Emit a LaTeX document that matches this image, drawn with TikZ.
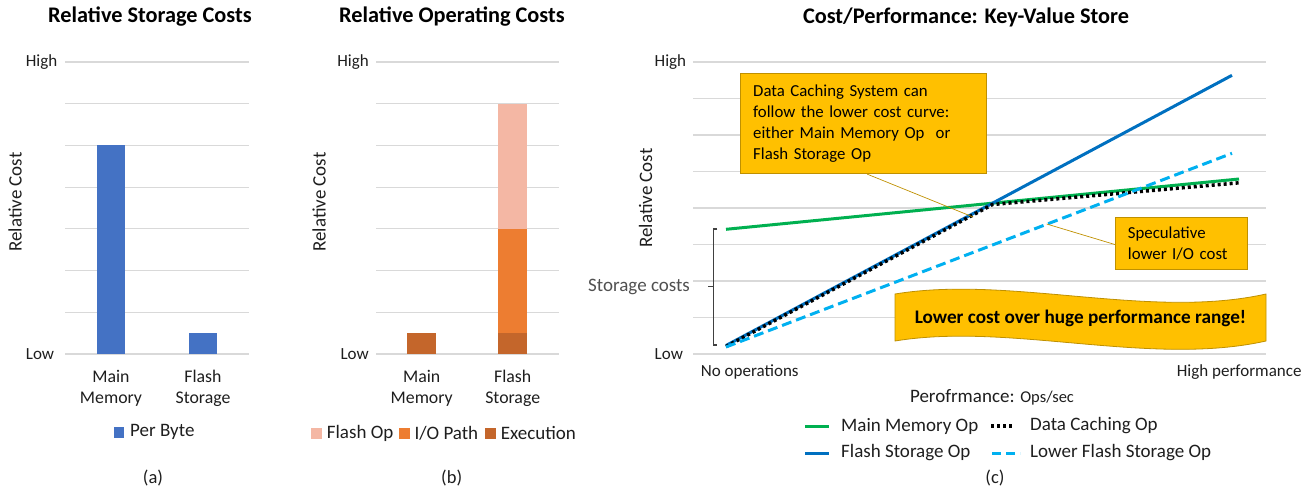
\documentclass[tikz,border=0pt]{standalone}
\usepackage{fontspec}
\setmainfont{Carlito}
\definecolor{gridgrey}{HTML}{D9D9D9}
\definecolor{txt}{HTML}{1E1E1E}
\definecolor{softtxt}{HTML}{505050}
\definecolor{barblue}{HTML}{4472C4}
\definecolor{flashop}{HTML}{F4B7A4}
\definecolor{iopath}{HTML}{ED7D31}
\definecolor{execcol}{HTML}{C4662B}
\definecolor{mmgreen}{HTML}{00B050}
\definecolor{fsblue}{HTML}{0070C0}
\definecolor{lfsblue}{HTML}{00B0F0}
\definecolor{callfill}{HTML}{FFC000}
\definecolor{calledge}{HTML}{BF9000}
\definecolor{bracketgrey}{HTML}{404040}
\begin{document}
\begin{tikzpicture}[x=1pt,y=-1pt,
  gridline/.style={draw=gridgrey,line width=1.2pt},
  lbl/.style={font=\fontsize{17}{21}\selectfont,text=txt,inner sep=0pt},
  cat/.style={lbl,font=\fontsize{17.8}{21}\selectfont,align=center},
  axtitle/.style={lbl,font=\fontsize{19}{22}\selectfont},
  keytext/.style={lbl,font=\fontsize{19}{22}\selectfont,anchor=west},
  captext/.style={lbl,font=\fontsize{18.5}{22}\selectfont},
  charttitle/.style={font=\fontsize{22.3}{26}\selectfont\bfseries,text=black,inner sep=0pt},
  callout/.style={draw=calledge,line width=0.8pt,fill=callfill,
    font=\fontsize{16.8}{20.8}\selectfont,text=black,align=left,
    inner xsep=12.5pt,inner ysep=0pt,anchor=north west},
  leader/.style={draw=calledge,line width=0.7pt},
  series/.style={line width=3pt},
  dotseries/.style={line width=3.5pt,black,dash pattern=on 3pt off 3pt},
  dashseries/.style={line width=3pt,lfsblue,dash pattern=on 10pt off 5pt},
  bracket/.style={draw=bracketgrey,line width=1.1pt},
]
\useasboundingbox (0,0) rectangle (1311,490);

% ---------------- (a) Relative Storage Costs ----------------
\node[charttitle] (aTitle) at (150,17) {Relative Storage Costs};
\foreach \k in {0,...,7}
  \draw[gridline] (65,{62+41.714*\k}) -- (249,{62+41.714*\k});
\fill[barblue] (96.7,145.4) rectangle (125.3,354);
\fill[barblue] (188.7,333.1) rectangle (217.3,354);
\node[lbl,anchor=west] (aHigh) at (25.7,62) {High};
\node[lbl,anchor=west] (aLow) at (25.7,354) {Low};
\node[axtitle,rotate=90] (aAxis) at (15,202) {Relative Cost};
\node[cat] (aMM) at (111,388) {Main\\Memory};
\node[cat] (aFS) at (203,388) {Flash\\Storage};
\fill[barblue] (114,427) rectangle (124.3,437.5);
\node[keytext] (aKey) at (130,432) {Per Byte};
\node[captext] (aCap) at (153,478) {(a)};

% ---------------- (b) Relative Operating Costs ----------------
\node[charttitle] (bTitle) at (452,17) {Relative Operating Costs};
\foreach \k in {0,...,7}
  \draw[gridline] (376,{62+41.714*\k}) -- (559,{62+41.714*\k});
\fill[execcol] (407.3,333.1) rectangle (436,354);
\fill[execcol] (498.3,333.1) rectangle (527,354);
\fill[iopath] (498.3,228.9) rectangle (527,333.1);
\fill[flashop] (498.3,103.7) rectangle (527,228.9);
\node[lbl,anchor=east] (bHigh) at (369,62) {High};
\node[lbl,anchor=east] (bLow) at (369,354) {Low};
\node[axtitle,rotate=90] (bAxis) at (319,202) {Relative Cost};
\node[cat] (bMM) at (421.7,388) {Main\\Memory};
\node[cat] (bFS) at (512.7,388) {Flash\\Storage};
\fill[flashop] (311,428) rectangle (321.7,438.5);
\node[keytext] (bKey1) at (326.7,433) {Flash Op};
\fill[iopath] (399.3,428) rectangle (410,438.5);
\node[keytext] (bKey2) at (414.3,433) {I/O Path};
\fill[execcol] (485.3,428) rectangle (496,438.5);
\node[keytext] (bKey3) at (500.7,433) {Execution};
\node[captext] (bCap) at (451.7,478) {(b)};

% ---------------- (c) Cost/Performance ----------------
\node[charttitle] (cTitle) at (966,17) {Cost/Performance: Key-Value Store};
\foreach \k in {0,...,8}
  \draw[gridline] (693,{62+36.5*\k}) -- (1266,{62+36.5*\k});
\node[lbl,anchor=west] (cHigh) at (654.5,62) {High};
\node[lbl,anchor=west] (cLow) at (654.5,354) {Low};
\node[axtitle,rotate=90] (cAxis) at (645.7,198) {Relative Cost};
\node[axtitle,text=softtxt,anchor=west] (cStore) at (588,286.7) {Storage costs};

% brace marking the storage-cost offset
\draw[bracket] (717.3,229) -- (713.3,229) -- (713.3,345) -- (717.3,345);
\draw[bracket] (713.3,286.7) -- (708.3,286.7);

% series end points
\coordinate (mm0) at (726,229.3);
\coordinate (mm1) at (1239,179);
\coordinate (fs0) at (726,345.5);
\coordinate (fs1) at (1232,75.3);
\coordinate (dc0) at (726,346.5);
\coordinate (dcK) at (992.5,204.5);
\coordinate (dc1) at (1239,182.8);
\coordinate (lf0) at (726,347);
\coordinate (lf1) at (1232,153.3);

\draw[series,mmgreen] (mm0) -- (mm1);
\draw[series,fsblue] (fs0) -- (fs1);
\draw[dotseries] (dc0) -- (dcK) -- (dc1);
\draw[dashseries] (lf0) -- (lf1);

% callouts
\node[callout,minimum width=245.4pt,minimum height=100pt,text width=220.4pt] (c1) at (740.3,73.3)
  {Data Caching System can\\follow the lower cost curve:\\either Main Memory Op\ \ or\\Flash Storage Op};
\coordinate (c1tip) at (973,217);
\draw[leader] ([xshift=3.7pt]c1.south) -- (c1tip);

\node[callout,minimum width=131.7pt,minimum height=51.7pt,text width=106.7pt] (c2) at (1115,217.3)
  {Speculative\\lower I/O cost};
\coordinate (c2tip) at (1046.7,224);
\draw[leader] ([yshift=-1pt]c2.west) -- (c2tip);

% wave banner
\draw[draw=calledge,line width=0.8pt,fill=callfill]
  (895,294) .. controls (1010,275) and (1150,320) .. (1266,294)
  -- (1266,341) .. controls (1150,367) and (1010,322) .. (895,341) -- cycle;
\node[font=\fontsize{19.2}{22}\selectfont\bfseries,text=black,inner sep=0pt] (banner) at (1080.5,318.5)
  {Lower cost over huge performance range!};

% axis labels
\node[lbl,anchor=west] (cNoOps) at (700.7,372.3) {No operations};
\node[lbl,anchor=east] (cHiPerf) at (1301.7,372.3) {High performance};
\node[axtitle] (cXAxis) at (992,397.7) {Perofrmance: {\fontsize{16.5}{19}\selectfont Ops/sec}};

% legend
\coordinate (k1a) at (805,426);   \coordinate (k1b) at (829,426);
\coordinate (k2a) at (991,426);   \coordinate (k2b) at (1013,426);
\coordinate (k3a) at (805,453);   \coordinate (k3b) at (829,453);
\coordinate (k4a) at (992,453);   \coordinate (k4b) at (1020,453);
\draw[series,mmgreen] (k1a) -- (k1b);
\draw[dotseries] (k2a) -- (k2b);
\draw[series,fsblue] (k3a) -- (k3b);
\draw[dashseries,dash pattern=on 9pt off 5pt] (k4a) -- (k4b);
\node[keytext] (kMM) at (841,426) {Main Memory Op};
\node[keytext] (kDC) at (1030,426) {Data Caching Op};
\node[keytext] (kFS) at (841,453) {Flash Storage Op};
\node[keytext] (kLF) at (1030,453) {Lower Flash Storage Op};
\node[captext] (cCap) at (995,478) {(c)};
\end{tikzpicture}
\end{document}
